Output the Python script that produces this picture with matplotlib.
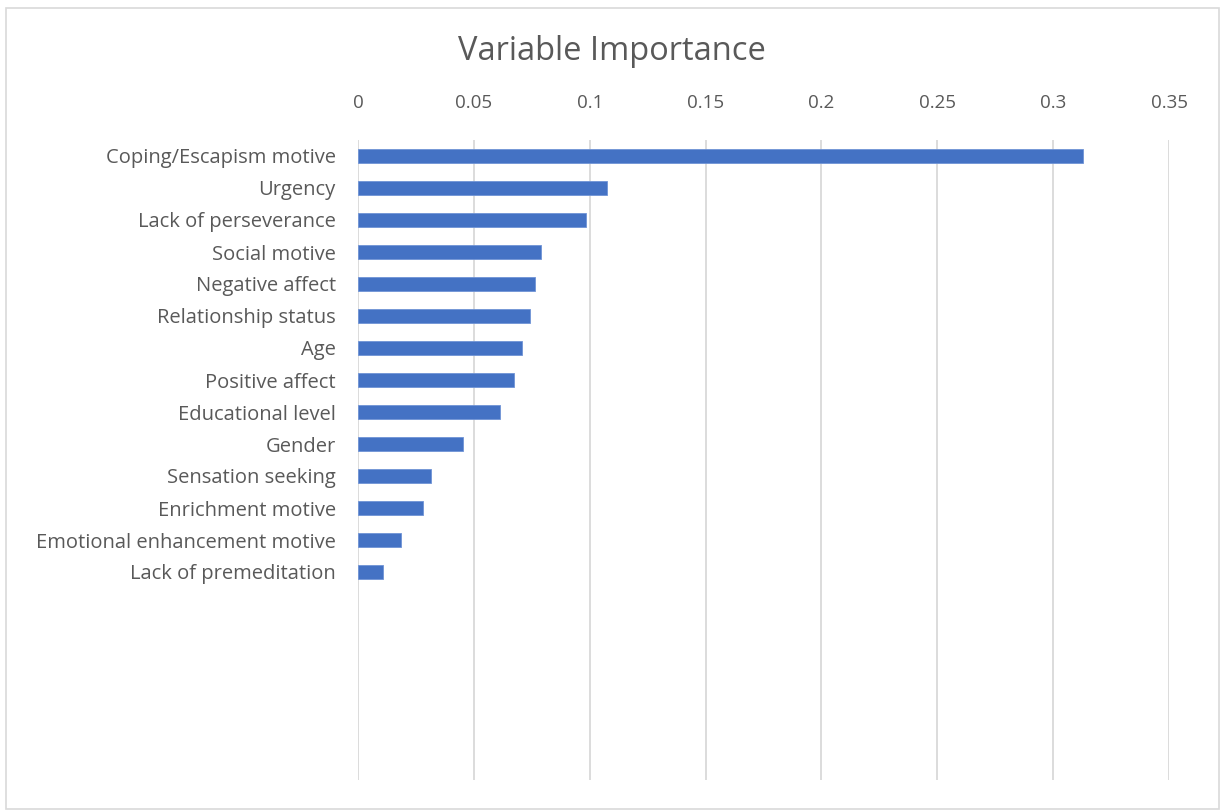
import matplotlib.pyplot as plt
from matplotlib.patches import Rectangle

# variable importance values
variables = ['Coping/Escapism motive', 'Urgency', 'Lack of perseverance',
             'Social motive', 'Negative affect', 'Relationship status', 'Age',
             'Positive affect', 'Educational level', 'Gender',
             'Sensation seeking', 'Enrichment motive',
             'Emotional enhancement motive', 'Lack of premeditation']
importance = [0.313, 0.1075, 0.0984, 0.079, 0.0764, 0.0743, 0.0708,
              0.0674, 0.0613, 0.0453, 0.0315, 0.028, 0.0186, 0.0108]
x_ticks = [0, 0.05, 0.1, 0.15, 0.2, 0.25, 0.3, 0.35]
x_tick_labels = ['0', '0.05', '0.1', '0.15', '0.2', '0.25', '0.3', '0.35']
n_slots = 20  # the category axis has empty slots below the last bar

plt.rcParams['font.family'] = ['Open Sans', 'DejaVu Sans']
text_color = '#595959'

fig = plt.figure(figsize=(12.23, 8.11), dpi=100)
W, H = 1223, 811
ax = fig.add_axes([358 / W, 1 - 780 / H, (1169 - 358) / W, (780 - 140) / H])

# chart area border
fig.patches.append(Rectangle((6 / W, 2 / H), 1213 / W, 1 - 10 / H,
                             transform=fig.transFigure, fill=False,
                             edgecolor='#d9d9d9', linewidth=1.2))

positions = list(range(len(variables)))
ax.barh(positions, importance, height=0.42, color='#4472c4',
        edgecolor='#6f93d6', linewidth=0.6, zorder=3)

ax.set_xlim(0, 0.35)
ax.set_ylim(n_slots - 0.5, -0.5)
ax.set_xticks(x_ticks)
ax.set_xticklabels(x_tick_labels)
ax.set_yticks(positions)
ax.set_yticklabels(variables)

ax.xaxis.tick_top()
ax.grid(axis='x', color='#d9d9d9', linewidth=1.3, zorder=0)
for s in ax.spines.values():
    s.set_visible(False)
ax.tick_params(axis='both', length=0, colors=text_color)
ax.tick_params(axis='x', pad=20, labelsize=13.5)
ax.tick_params(axis='y', pad=16, labelsize=14.5)

fig.text(612 / W, 1 - 52 / H, 'Variable Importance', ha='center', va='center',
         fontsize=23.5, color=text_color)

fig.savefig('out.png', dpi=100)
